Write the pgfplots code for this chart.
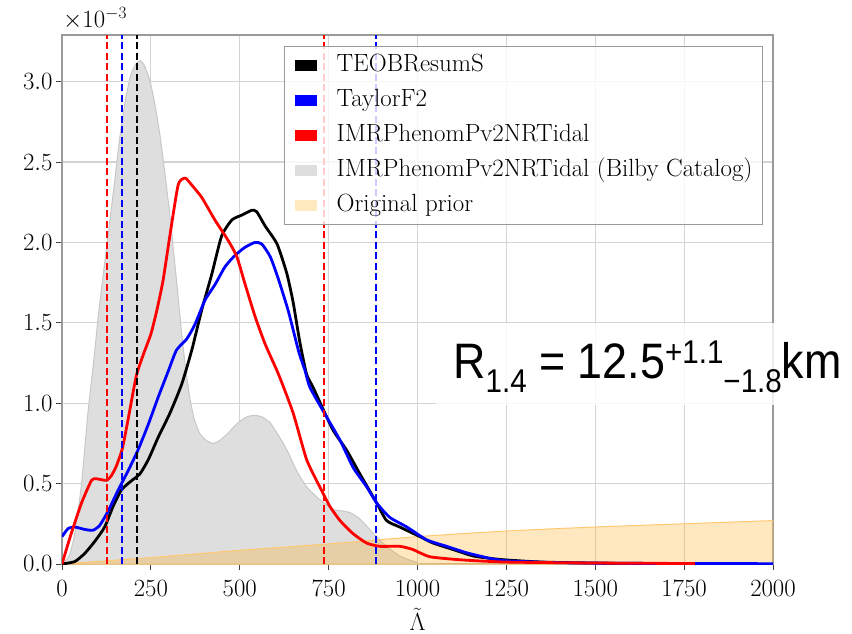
\documentclass[border=0pt]{standalone}
\usepackage{fontspec}
\usepackage{pgfplots}
\pgfplotsset{compat=1.18}
\newfontfamily\arial{Liberation Sans}

\definecolor{gridgray}{HTML}{D4D4D4}
\definecolor{spinegray}{HTML}{9A9A9A}
\definecolor{bilby}{HTML}{DEDEDE}
\definecolor{bilbyedge}{HTML}{C8C8C8}
\definecolor{priorfill}{HTML}{FFA500}
\definecolor{prioredge}{HTML}{FFC870}

\pgfplotsset{
  patch/.style={legend image code/.code={\fill[#1, draw=none, fill opacity=1] (0bp,-5.5bp) rectangle (22bp,5.5bp);}},
  curve/.style={line width=2.8bp, line join=round, smooth, tension=0.35},
  bound/.style={line width=2.2bp, dash pattern=on 7bp off 3.5bp},
}

\begin{document}
\begin{tikzpicture}
\begin{axis}[
  scale only axis,
  width=711bp, height=529bp,
  xmin=0, xmax=2000, ymin=0, ymax=3.29,
  xtick={0,250,...,2000},
  ytick={0,0.5,1.0,1.5,2.0,2.5,3.0},
  xtick pos=left, ytick pos=left,
  tick align=outside,
  major tick length=6bp,
  tick style={black!75, line width=1bp},
  axis line style={spinegray, line width=1.2bp},
  grid=major,
  major grid style={gridgray, line width=1.1bp},
  ticklabel style={font=\fontsize{24}{28}\selectfont},
  xticklabel style={/pgf/number format/1000 sep={}, inner sep=0pt, yshift=-10bp},
  yticklabel style={/pgf/number format/.cd, fixed, fixed zerofill, precision=1},
  xlabel={$\tilde{\Lambda}$},
  every axis x label/.style={at={(rel axis cs:0.5,0)}, anchor=base, yshift=-66.5bp,
    inner sep=0pt, font=\fontsize{24}{26}\selectfont},
  legend cell align=left,
  legend style={
    at={(1,1)}, anchor=north east, xshift=-10bp, yshift=-11bp,
    draw=spinegray, line width=1.2bp,
    fill=white, fill opacity=0.8, draw opacity=1, text opacity=1,
    font=\fontsize{25}{30}\selectfont,
    inner xsep=10bp, inner ysep=8bp,
    row sep=13bp, column sep=20bp,
    nodes={inner sep=0pt, text height=17bp, text depth=5bp},
  },
]

% posterior from the Bilby catalog run (shaded)
\addplot[forget plot, fill=bilby, draw=bilbyedge, line width=1bp, smooth, tension=0.35] coordinates {
 (0,0) (20,0.05) (36,0.19) (55,0.50) (73,0.94) (90,1.28) (101,1.52) (116,1.80)
 (130,2.05) (148,2.38) (163,2.66) (178,2.88) (193,3.04) (208,3.11) (220,3.13)
 (232,3.10) (248,3.00) (262,2.85) (276,2.66) (290,2.42) (304,2.16) (315,1.92)
 (325,1.70) (336,1.45) (347,1.23) (359,1.04) (372,0.90) (388,0.81) (405,0.77)
 (425,0.75) (445,0.77) (465,0.81) (496,0.88) (520,0.915) (540,0.925) (562,0.915)
 (585,0.88) (600,0.83) (620,0.76) (637,0.69) (660,0.58) (688,0.48) (725,0.40)
 (763,0.34) (790,0.33) (810,0.32) (838,0.28) (876,0.19) (913,0.11) (950,0.05)
 (1000,0.01) (1060,0) (2000,0)
} \closedcycle;

% original prior
\addplot[forget plot, fill=priorfill, fill opacity=0.25, draw=prioredge, line width=1bp, smooth] coordinates {
 (0,0) (250,0.04) (500,0.085) (750,0.125) (1000,0.17) (1250,0.205) (1500,0.23) (1750,0.25) (2000,0.27)
} \closedcycle;

% TEOBResumS
\addplot[forget plot, black, curve] coordinates {
 (0,0) (36,0.015) (64,0.066) (92,0.14) (120,0.23) (144,0.36) (167,0.46) (191,0.51)
 (219,0.56) (243,0.65) (271,0.79) (304,0.94) (337,1.12) (365,1.33) (393,1.58)
 (421,1.80) (449,2.04) (478,2.14) (506,2.17) (534,2.20) (548,2.19) (572,2.10)
 (605,1.99) (632,1.81) (650,1.63) (669,1.38) (688,1.18) (706,1.10) (735,0.96)
 (763,0.83) (800,0.71) (838,0.56) (885,0.38) (913,0.27) (950,0.23) (1007,0.17)
 (1044,0.13) (1100,0.09) (1156,0.05) (1204,0.035) (1251,0.025) (1350,0.012)
 (1500,0.006) (1750,0.002)
};

% TaylorF2
\addplot[forget plot, blue, curve] coordinates {
 (0,0.17) (17,0.22) (36,0.23) (64,0.215) (87,0.21) (106,0.24) (130,0.33) (158,0.46)
 (186,0.58) (214,0.71) (243,0.87) (271,1.04) (299,1.20) (322,1.33) (351,1.40)
 (374,1.49) (402,1.64) (431,1.74) (459,1.85) (487,1.92) (515,1.97) (543,2.00)
 (562,1.99) (586,1.91) (609,1.77) (637,1.57) (666,1.32) (684,1.20) (697,1.10)
 (735,0.95) (782,0.77) (819,0.60) (857,0.48) (885,0.38) (922,0.29) (970,0.23)
 (1026,0.15) (1082,0.11) (1138,0.07) (1204,0.035) (1250,0.02) (1400,0.008)
 (1600,0.004) (2000,0.002)
};

% IMRPhenomPv2NRTidal
\addplot[forget plot, red, curve] coordinates {
 (0,0) (26,0.19) (55,0.38) (83,0.52) (97,0.53) (125,0.52) (139,0.55) (153,0.61)
 (170,0.72) (186,0.90) (209,1.17) (230,1.31) (250,1.43) (266,1.57) (284,1.76)
 (304,2.05) (327,2.36) (346,2.40) (360,2.37) (393,2.28) (430,2.14) (468,2.01)
 (492,1.91) (515,1.74) (543,1.54) (571,1.37) (609,1.18) (650,0.94) (688,0.65)
 (725,0.48) (753,0.36) (782,0.27) (818,0.19) (857,0.13) (894,0.11) (950,0.11)
 (987,0.09) (1035,0.045) (1128,0.025) (1250,0.012) (1500,0.006) (1780,0.003)
};

% 90% credible bounds
\addplot[forget plot, red, bound] coordinates {(127,0) (127,3.29)};
\addplot[forget plot, blue, bound] coordinates {(169,0) (169,3.29)};
\addplot[forget plot, black, bound] coordinates {(212,0) (212,3.29)};
\addplot[forget plot, red, bound] coordinates {(737,0) (737,3.29)};
\addplot[forget plot, black, bound] coordinates {(884,0) (884,3.29)};
\addplot[forget plot, blue, bound] coordinates {(884,0) (884,3.29)};

\addlegendimage{patch=black}
\addlegendentry{TEOBResumS}
\addlegendimage{patch=blue}
\addlegendentry{TaylorF2}
\addlegendimage{patch=red}
\addlegendentry{IMRPhenomPv2NRTidal}
\addlegendimage{patch=bilby}
\addlegendentry{IMRPhenomPv2NRTidal (Bilby Catalog)}
\addlegendimage{patch={priorfill!25}}
\addlegendentry{Original prior}
\end{axis}

% scale factor of the density axis
\node[anchor=base west, inner sep=0pt, font=\fontsize{23}{27}\selectfont] at (1bp,536bp) {$\times10^{-3}$};

% radius annotation
\fill[white, fill opacity=0.82] (374bp,159bp) rectangle (790bp,241bp);
\node[anchor=base west, inner sep=0pt, font=\arial\fontsize{50}{56}\selectfont] at (391bp,185.7bp)
  {\scalebox{0.9}[1]{R\raisebox{-14.4bp}{\fontsize{33}{38}\selectfont 1.4} = 12.5\raisebox{15bp}{\fontsize{33}{38}\selectfont +1.1}\raisebox{-14.4bp}{\fontsize{33}{38}\selectfont −1.8}km}};

\pgfresetboundingbox
\path[use as bounding box] (-62bp,-70bp) rectangle (790bp,564bp);
\end{tikzpicture}
\end{document}
